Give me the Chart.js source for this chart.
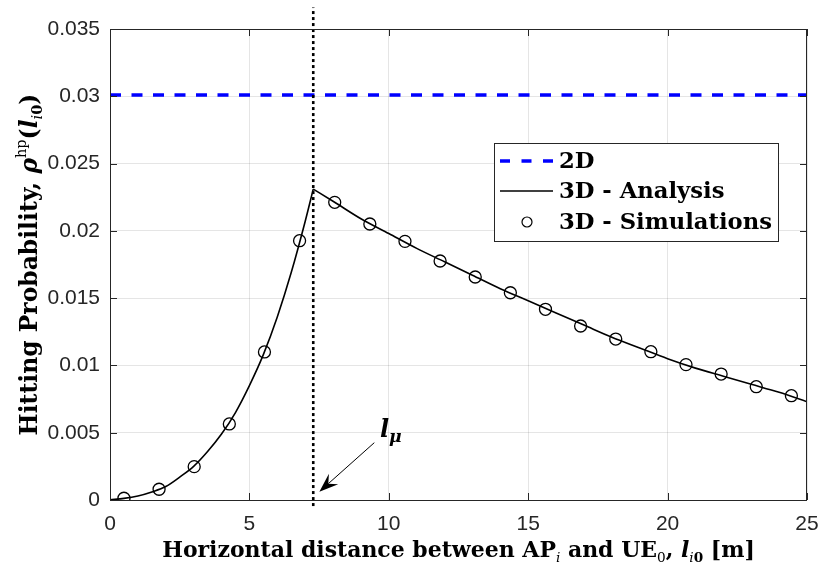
<!DOCTYPE html>
<html>
<head>
<meta charset="utf-8">
<script src="https://cdn.jsdelivr.net/npm/chart.js@4.4.1/dist/chart.umd.min.js"></script>
<style>
  html, body { margin: 0; padding: 0; background: #fff; }
  #wrap { width: 821px; height: 568px; position: relative; }
</style>
</head>
<body>
<div id="wrap"><canvas id="hp"></canvas></div>
<script>
// 2D hitting probability (flat)
const flatX = [0, 25];
const flatY = [0.0301, 0.0301];

// 3D analysis curve, rising part up to l_mu
const riseX = [0, 0.5, 1, 1.5, 2, 2.5, 3, 3.5, 4, 4.5, 5, 5.5, 6, 6.5, 7, 7.29];
const riseY = [0.00002, 0.00012, 0.0003, 0.0006, 0.0010, 0.0017, 0.0025, 0.0036, 0.0049,
  0.0065, 0.0085, 0.0108, 0.0136, 0.0169, 0.0207, 0.0231];
// 3D analysis curve, falling part after l_mu
const fallX = [7.29, 8, 9, 10, 11, 12, 13, 14, 15, 16, 17, 18, 19, 20, 21, 22, 23, 24, 25];
const fallY = [0.0231, 0.0222, 0.0209, 0.0198, 0.0187, 0.0177, 0.0167, 0.0157, 0.0148,
  0.0139, 0.0130, 0.0121, 0.0113, 0.0105, 0.0098, 0.0092, 0.0086, 0.0080, 0.0073];

// 3D simulation points
const simX = [0.5, 1.76, 3.02, 4.28, 5.54, 6.8, 8.06, 9.32, 10.58, 11.84, 13.1,
  14.36, 15.62, 16.88, 18.14, 19.4, 20.66, 21.92, 23.18, 24.44];
const simY = [0.00013, 0.0008, 0.00248, 0.00565, 0.0110, 0.01927, 0.02212, 0.02051,
  0.01922, 0.01776, 0.01657, 0.0154, 0.01417, 0.01293, 0.01196, 0.01102, 0.01006,
  0.00936, 0.00842, 0.00775];

// l_mu marker (vertical dotted line)
const muX = [7.29, 7.29];
const muY = [-0.00045, 0.0366];

const xTicks = [0, 5, 10, 15, 20, 25];
const yTicks = [0, 0.005, 0.01, 0.015, 0.02, 0.025, 0.03, 0.035];

const zip = (xs, ys) => xs.map((x, i) => ({ x, y: ys[i] }));

const SERIF = '"DejaVu Serif", serif';
const SANS = '"Liberation Sans", Arial, sans-serif';
const AXIS_COLOR = '#262626';

function runFont(r, size) {
  const px = size * (r.s || 1);
  return `${r.i ? 'italic ' : ''}${r.w || 'bold'} ${px.toFixed(2)}px ${SERIF}`;
}
function runsWidth(ctx, runs, size) {
  let w = 0;
  runs.forEach(r => { ctx.font = runFont(r, size); w += ctx.measureText(r.t).width; });
  return w;
}
// font size that makes the runs span a given width
function fitSize(ctx, runs, width) {
  return 100 * width / runsWidth(ctx, runs, 100);
}
function drawRuns(ctx, runs, x, y, size) {
  let cx = x;
  ctx.textAlign = 'left';
  ctx.textBaseline = 'alphabetic';
  runs.forEach(r => {
    ctx.font = runFont(r, size);
    ctx.fillText(r.t, cx, y + (r.dy || 0) * size);
    cx += ctx.measureText(r.t).width;
  });
}

const xTitle = [
  { t: 'Horizontal distance between AP' },
  { t: 'i', i: true, w: 'normal', s: 0.62, dy: 0.22 },
  { t: ' and UE' },
  { t: '0', w: 'normal', s: 0.62, dy: 0.22 },
  { t: ', ' },
  { t: 'l', i: true },
  { t: 'i', i: true, w: 'normal', s: 0.62, dy: 0.22 },
  { t: '0', s: 0.62, dy: 0.22 },
  { t: ' [m]' }
];
const yTitle = [
  { t: 'Hitting Probability, ' },
  { t: 'ρ', i: true },
  { t: 'hp', w: 'normal', s: 0.62, dy: -0.45 },
  { t: '(' },
  { t: 'l', i: true },
  { t: 'i', i: true, w: 'normal', s: 0.62, dy: 0.22 },
  { t: '0', s: 0.62, dy: 0.22 },
  { t: ')' }
];
const legendItems = ['2D', '3D - Analysis', '3D - Simulations'];

const decorations = {
  id: 'decorations',
  afterDatasetsDraw(chart) {
    const { ctx, chartArea: a, scales: { x, y } } = chart;
    ctx.save();
    // box and inward tick marks
    ctx.strokeStyle = AXIS_COLOR;
    ctx.lineWidth = 1;
    ctx.strokeRect(a.left + 0.5, a.top + 0.5, a.right - a.left - 1, a.bottom - a.top);
    ctx.beginPath();
    xTicks.forEach(v => {
      const px = Math.round(x.getPixelForValue(v)) + 0.5;
      ctx.moveTo(px, a.bottom); ctx.lineTo(px, a.bottom - 7);
      ctx.moveTo(px, a.top); ctx.lineTo(px, a.top + 7);
    });
    yTicks.forEach(v => {
      const py = Math.round(y.getPixelForValue(v)) + 0.5;
      ctx.moveTo(a.left, py); ctx.lineTo(a.left + 7, py);
      ctx.moveTo(a.right, py); ctx.lineTo(a.right - 7, py);
    });
    ctx.stroke();
    ctx.restore();
  },
  afterDraw(chart) {
    const { ctx, chartArea: a, scales: { x, y } } = chart;
    ctx.save();
    ctx.fillStyle = '#000';

    // axis titles
    const xs = fitSize(ctx, xTitle, 593);
    const xw = runsWidth(ctx, xTitle, xs);
    drawRuns(ctx, xTitle, (a.left + a.right) / 2 - xw / 2, 557, xs);

    const ys = fitSize(ctx, yTitle, 342);
    const yw = runsWidth(ctx, yTitle, ys);
    ctx.save();
    ctx.translate(37, (a.top + a.bottom) / 2);
    ctx.rotate(-Math.PI / 2);
    drawRuns(ctx, yTitle, -yw / 2, 0, ys);
    ctx.restore();

    // l_mu label and arrow
    const tx = x.getPixelForValue(9.48), ty = y.getPixelForValue(0.00426);
    const hx = x.getPixelForValue(7.51), hy = y.getPixelForValue(0.00062);
    const ang = Math.atan2(hy - ty, hx - tx);
    const c = Math.cos(ang), s = Math.sin(ang);
    ctx.strokeStyle = '#000';
    ctx.lineWidth = 1;
    ctx.beginPath();
    ctx.moveTo(tx, ty);
    ctx.lineTo(hx - 12 * c, hy - 12 * s);
    ctx.stroke();
    ctx.beginPath();
    ctx.moveTo(hx, hy);
    ctx.lineTo(hx - 19 * c + 7 * s, hy - 19 * s - 7 * c);
    ctx.lineTo(hx - 12 * c, hy - 12 * s);
    ctx.lineTo(hx - 19 * c - 7 * s, hy - 19 * s + 7 * c);
    ctx.closePath();
    ctx.fill();
    drawRuns(ctx, [{ t: 'l', i: true }, { t: 'μ', i: true, s: 0.72, dy: 0.2 }],
      x.getPixelForValue(9.68), y.getPixelForValue(0.00468), 24);

    // legend
    const lx = 494, ly = 143, lw = 284, lh = 98;
    ctx.fillStyle = '#fff';
    ctx.fillRect(lx, ly, lw, lh);
    ctx.strokeStyle = '#262626';
    ctx.lineWidth = 1;
    ctx.strokeRect(lx + 0.5, ly + 0.5, lw, lh);
    const ls = fitSize(ctx, [{ t: legendItems[2] }], 213);
    const rows = [161, 191, 222];
    // 2D sample
    ctx.strokeStyle = '#0000ff';
    ctx.lineWidth = 3.5;
    ctx.setLineDash([10, 11.5]);
    ctx.beginPath(); ctx.moveTo(500, rows[0]); ctx.lineTo(553, rows[0]); ctx.stroke();
    ctx.setLineDash([]);
    // analysis sample
    ctx.strokeStyle = '#000';
    ctx.lineWidth = 1.6;
    ctx.beginPath(); ctx.moveTo(500, rows[1]); ctx.lineTo(553, rows[1]); ctx.stroke();
    // simulation sample
    ctx.lineWidth = 1.2;
    ctx.beginPath(); ctx.arc(527, rows[2], 5, 0, Math.PI * 2); ctx.stroke();
    ctx.fillStyle = '#000';
    legendItems.forEach((t, i) => drawRuns(ctx, [{ t }], 559, rows[i] + 7, ls));
    ctx.restore();
  }
};

const curveStyle = {
  borderColor: '#000',
  borderWidth: 1.6,
  pointRadius: 0,
  cubicInterpolationMode: 'monotone'
};

new Chart(document.getElementById('hp'), {
  type: 'line',
  data: {
    datasets: [
      {
        label: 'l_mu',
        data: zip(muX, muY),
        borderColor: '#000',
        borderWidth: 2.6,
        borderDash: [3, 3],
        pointRadius: 0,
        clip: false
      },
      {
        label: '2D',
        data: zip(flatX, flatY),
        borderColor: '#0000ff',
        borderWidth: 3.5,
        borderDash: [11, 10.5],
        pointRadius: 0
      },
      { label: '3D - Analysis', data: zip(riseX, riseY), ...curveStyle },
      { label: '3D - Analysis (fall)', data: zip(fallX, fallY), ...curveStyle },
      {
        label: '3D - Simulations',
        data: zip(simX, simY),
        showLine: false,
        borderColor: '#000',
        backgroundColor: 'transparent',
        pointRadius: 6,
        pointBorderWidth: 1.3,
        pointStyle: 'circle'
      }
    ]
  },
  options: {
    responsive: true,
    maintainAspectRatio: false,
    animation: false,
    events: [],
    layout: { padding: { top: 29, right: 14, left: 0, bottom: 0 } },
    plugins: { legend: { display: false }, tooltip: { enabled: false } },
    scales: {
      x: {
        type: 'linear',
        min: 0, max: 25,
        afterFit: s => { s.height = 68; s.paddingLeft = 0; s.paddingRight = 0; },
        afterBuildTicks: s => { s.ticks = xTicks.map(value => ({ value })); },
        grid: { color: 'rgba(38,38,38,0.12)', drawTicks: false },
        border: { display: false },
        ticks: {
          padding: 12,
          color: AXIS_COLOR,
          font: { family: SANS, size: 21 },
          maxRotation: 0,
          callback: v => String(v)
        }
      },
      y: {
        type: 'linear',
        min: 0, max: 0.035,
        afterFit: s => { s.width = 110; s.paddingTop = 0; s.paddingBottom = 0; },
        afterBuildTicks: s => { s.ticks = yTicks.map(value => ({ value })); },
        grid: { color: 'rgba(38,38,38,0.12)', drawTicks: false },
        border: { display: false },
        ticks: {
          padding: 10,
          color: AXIS_COLOR,
          font: { family: SANS, size: 21 },
          callback: v => String(Number(v.toFixed(3)))
        }
      }
    }
  },
  plugins: [decorations]
});
</script>
</body>
</html>
